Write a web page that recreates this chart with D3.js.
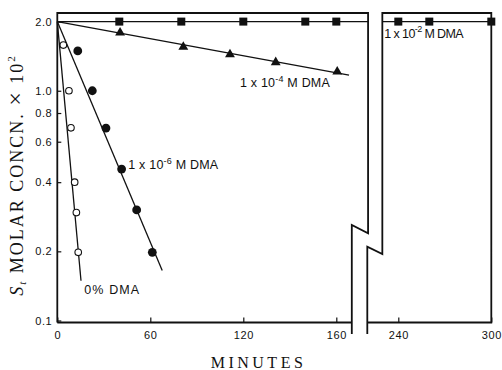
<!DOCTYPE html>
<html><head><meta charset="utf-8">
<script src="https://cdn.jsdelivr.net/npm/d3@7"></script>
<style>body{margin:0;background:#fff}svg{display:block}</style>
</head><body>
<svg id="c" width="502" height="370"></svg>
<script>
// ---- data ----
const timeTicksLeft = [0, 60, 120, 180];
const timeTickLabelsLeft = ["0", "60", "120", "160"];
const timeTicksRight = [240, 300];
const timeTickLabelsRight = ["240", "300"];
const concTicks = [0.1, 0.2, 0.4, 0.6, 0.8, 1.0, 2.0];
const concTickLabels = ["0.1", "0.2", "0.4", "0.6", "0.8", "1.0", "2.0"];

// 0% DMA (open circles)
const dma0Time = [3.9, 7.5, 8.8, 11.2, 12.3, 13.5];
const dma0Conc = [1.58, 1.0, 0.69, 0.40, 0.295, 0.198];
const dma0FitTime = [0, 15.3];
const dma0FitConc = [2.0, 0.149];

// 1x10^-6 M DMA (filled circles)
const dma6Time = [13.2, 22.6, 31.4, 41.5, 51.2, 61.3];
const dma6Conc = [1.49, 1.0, 0.688, 0.456, 0.303, 0.198];
const dma6FitTime = [0, 67.7];
const dma6FitConc = [2.0, 0.165];

// 1x10^-4 M DMA (triangles)
const dma4Time = [40.5, 81.3, 111.4, 140.9, 180.6];
const dma4Conc = [1.79, 1.55, 1.44, 1.33, 1.21];
const dma4FitTime = [0, 188.2];
const dma4FitConc = [2.0, 1.17];

// 1x10^-2 M DMA (squares)
const dma2Time = [40, 80, 120, 160, 180, 240, 260, 300];
const dma2Conc = [2.0, 2.0, 2.0, 2.0, 2.0, 2.0, 2.0, 2.0];
const dma2FitLeftTime = [0, 200.5];
const dma2FitRightTime = [229.7, 300];
const dma2FitConc = [2.0, 2.0];

// ---- scales ----
const svg = d3.select("#c");
const xL = d3.scaleLinear().domain([0, 190]).range([57.3, 351.8]);
const xR = d3.scaleLinear().domain([220, 300]).range([367.3, 491.3]);
const xOf = t => (t < 210 ? xL(t) : xR(t));
const y = d3.scaleLog().domain([0.098, 2.18]).range([322.5, 13]);
const yTop = y.range()[1], yBot = y.range()[0];

const ink = "#111";
const sans = "'Liberation Sans', Arial, sans-serif";
const serif = "'Liberation Serif', 'Times New Roman', serif";

// ---- frame ----
const frame = svg.append("g").attr("fill", "none").attr("stroke", ink).attr("stroke-width", 1.8);
frame.append("path").attr("d",
  `M${xL(0)},${yBot} V${yTop} H${xL(200.5)} V233.3 L${xL(190)},225 V334`);
frame.append("path").attr("d", `M${xL(0)},${yBot} H${xL(190)}`);
frame.append("path").attr("d",
  `M${xR(220)},334 V246.7 L${xR(229.7)},254 V${yTop} H${xR(300)} V${yBot} H${xR(220)}`);

// ---- axes ----
function styleAxis(g) {
  g.select(".domain").remove();
  g.selectAll("text").attr("font-family", sans).attr("font-size", 11)
    .attr("fill", ink).attr("letter-spacing", 0.6);
  g.selectAll("line").attr("stroke", ink).attr("stroke-width", 1.2);
}
svg.append("g").attr("transform", `translate(0,${yBot})`)
  .call(d3.axisBottom(xL).tickValues(timeTicksLeft)
    .tickFormat((d, i) => timeTickLabelsLeft[i]).tickSizeInner(-5).tickSizeOuter(0).tickPadding(9))
  .call(styleAxis);
svg.append("g").attr("transform", `translate(0,${yBot})`)
  .call(d3.axisBottom(xR).tickValues(timeTicksRight)
    .tickFormat((d, i) => timeTickLabelsRight[i]).tickSizeInner(-5).tickSizeOuter(0).tickPadding(9))
  .call(styleAxis);
svg.append("g").attr("transform", `translate(${xL(0)},0)`)
  .call(d3.axisLeft(y).tickValues(concTicks)
    .tickFormat((d, i) => concTickLabels[i]).tickSizeInner(-4).tickSizeOuter(0).tickPadding(5))
  .call(styleAxis);

// ---- fit lines ----
const line = d3.line().x(d => xOf(d[0])).y(d => y(d[1]));
const lines = svg.append("g").attr("fill", "none").attr("stroke", ink).attr("stroke-width", 1.3);
const fits = [
  d3.zip(dma0FitTime, dma0FitConc),
  d3.zip(dma6FitTime, dma6FitConc),
  d3.zip(dma4FitTime, dma4FitConc),
  d3.zip(dma2FitLeftTime, dma2FitConc),
  d3.zip(dma2FitRightTime, dma2FitConc)
];
lines.selectAll("path").data(fits).join("path").attr("d", line);

// ---- markers ----
const pts = svg.append("g");
pts.selectAll(".open").data(d3.zip(dma0Time, dma0Conc)).join("circle")
  .attr("cx", d => xOf(d[0])).attr("cy", d => y(d[1])).attr("r", 3.3)
  .attr("fill", "#fff").attr("stroke", ink).attr("stroke-width", 1.1);
pts.selectAll(".fill").data(d3.zip(dma6Time, dma6Conc)).join("circle")
  .attr("cx", d => xOf(d[0])).attr("cy", d => y(d[1])).attr("r", 4.4).attr("fill", ink);
pts.selectAll(".tri").data(d3.zip(dma4Time, dma4Conc)).join("path")
  .attr("d", d3.symbol(d3.symbolTriangle, 42))
  .attr("transform", d => `translate(${xOf(d[0])},${y(d[1])})`).attr("fill", ink);
pts.selectAll(".sq").data(d3.zip(dma2Time, dma2Conc)).join("path")
  .attr("d", d3.symbol(d3.symbolSquare, 64))
  .attr("transform", d => `translate(${xOf(d[0])},${y(d[1])})`).attr("fill", ink);

// ---- annotations ----
function label(x, yb, ls, pre, sup, post) {
  const t = svg.append("text").attr("x", x).attr("y", yb)
    .attr("font-family", sans).attr("font-size", 12.5).attr("fill", ink).attr("letter-spacing", ls);
  t.append("tspan").text(pre);
  if (sup) {
    t.append("tspan").attr("dy", -5.5).attr("font-size", 9).text(sup);
    t.append("tspan").attr("dy", 5.5).text(post);
  }
}
label(128.3, 169, 0.2, "1 x 10", "-6", " M DMA");
label(240, 87.3, 0.2, "1 x 10", "-4", " M DMA");
label(384.3, 37.5, -0.6, "1 x 10", "-2", " M DMA");
label(84.3, 294, 1.1, "0% DMA");

// ---- axis titles ----
svg.append("text").attr("x", 258.5).attr("y", 368).attr("text-anchor", "middle")
  .attr("font-family", serif).attr("font-size", 16).attr("letter-spacing", 3.5)
  .attr("fill", ink).text("MINUTES");

const yt = svg.append("text").attr("transform", "translate(22.7,175) rotate(-90)")
  .attr("text-anchor", "middle").attr("font-family", serif).attr("font-size", 18)
  .attr("letter-spacing", 2.0).attr("fill", ink);
yt.append("tspan").attr("font-style", "italic").text("S");
yt.append("tspan").attr("font-size", 11).attr("dy", 3).attr("font-style", "italic").text("t");
yt.append("tspan").attr("dy", -3).text(" MOLAR CONCN. ");
yt.append("tspan").attr("font-size", 24).text("\u00D7");
yt.append("tspan").text(" 10");
yt.append("tspan").attr("font-size", 11).attr("dy", -8).text("2");
</script>
</body></html>
